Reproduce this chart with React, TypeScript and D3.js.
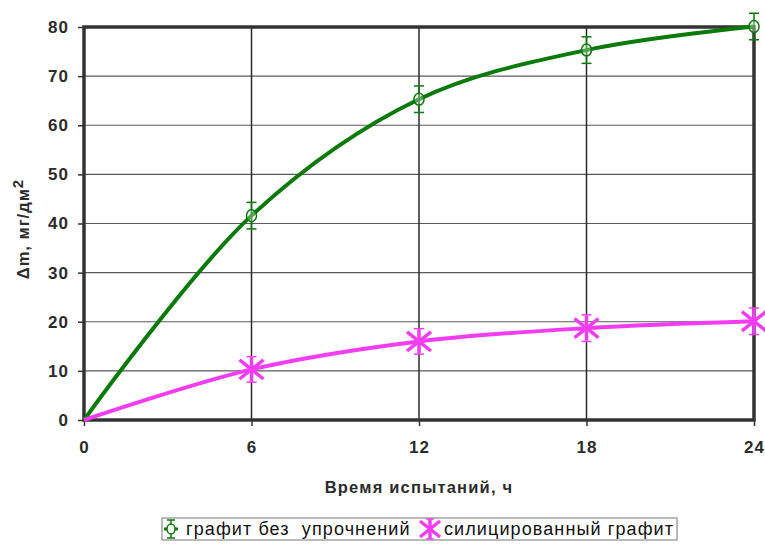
import { useEffect, useRef } from 'react'
import * as d3 from 'd3'

const HOURS = [0, 6, 12, 18, 24]
const PLAIN = [0, 41.6, 65.3, 75.3, 80.1]
const PLAIN_ERR = [0, 2.7, 2.7, 2.7, 2.7]
const SILICIDED = [0, 10.3, 16.0, 18.7, 20.1]
const SILICIDED_ERR = [0, 2.6, 2.6, 2.7, 2.7]
const Y_TICKS = [0, 10, 20, 30, 40, 50, 60, 70, 80]
const X_TICKS = [0, 6, 12, 18, 24]
const SERIES_NAMES = ['графит без  упрочнений', 'силицированный графит']

const W = 765
const H = 550
const MARGIN = { top: 27, right: 10, bottom: 130, left: 84 }
const GREEN = '#0a7a0a'
const PINK = '#f23cf2'
const FONT = '"Liberation Sans", Arial, sans-serif'

type Pt = { t: number; v: number; e: number }

export default function App() {
  const svgRef = useRef<SVGSVGElement>(null)

  useEffect(() => {
    const svg = d3.select(svgRef.current)
    svg.selectAll('*').remove()

    const innerW = W - MARGIN.left - MARGIN.right
    const innerH = H - MARGIN.top - MARGIN.bottom
    const x = d3.scaleLinear([0, 24], [0, innerW - 1])
    const y = d3.scaleLinear([0, 80], [innerH, 0])

    const g = svg.append('g').attr('transform', `translate(${MARGIN.left},${MARGIN.top})`)

    // ── Grid ──
    g.append('g')
      .selectAll('line')
      .data(Y_TICKS.slice(1, -1))
      .join('line')
      .attr('x1', 0).attr('x2', x(24))
      .attr('y1', d => y(d)).attr('y2', d => y(d))
      .attr('stroke', '#5a5a5a').attr('stroke-width', 1.2)

    g.append('g')
      .selectAll('line')
      .data(X_TICKS.slice(1, -1))
      .join('line')
      .attr('x1', d => x(d)).attr('x2', d => x(d))
      .attr('y1', 0).attr('y2', innerH)
      .attr('stroke', '#2a2a2a').attr('stroke-width', 1.5)

    // ── Axes (ticks + labels) ──
    g.append('g')
      .call(d3.axisLeft(y).tickValues(Y_TICKS).tickSize(6).tickPadding(9))
      .call(ag => ag.select('.domain').remove())
      .call(ag => ag.selectAll('.tick line').attr('stroke', '#333').attr('stroke-width', 1.5))
      .call(ag => ag.selectAll('text')
        .attr('fill', '#2b2b2b').attr('font-size', 17).attr('font-weight', 'bold')
        .attr('font-family', FONT).attr('letter-spacing', 1))

    g.append('g')
      .attr('transform', `translate(0,${innerH})`)
      .call(d3.axisBottom(x).tickValues(X_TICKS).tickSize(6).tickPadding(15))
      .call(ag => ag.select('.domain').remove())
      .call(ag => ag.selectAll('.tick line').attr('stroke', '#333').attr('stroke-width', 1.5))
      .call(ag => ag.selectAll('text')
        .attr('fill', '#2b2b2b').attr('font-size', 17).attr('font-weight', 'bold')
        .attr('font-family', FONT).attr('letter-spacing', 1))

    // ── Frame ──
    g.append('rect')
      .attr('x', 0).attr('y', 0)
      .attr('width', x(24)).attr('height', innerH)
      .attr('fill', 'none').attr('stroke', '#333').attr('stroke-width', 3.5)

    // ── Axis titles ──
    g.append('text')
      .attr('x', x(12)).attr('y', innerH + 73)
      .attr('text-anchor', 'middle').attr('font-size', 16.5).attr('font-weight', 'bold')
      .attr('fill', '#2b2b2b').attr('font-family', FONT).attr('letter-spacing', 1.2)
      .text('Время испытаний, ч')

    const yt = svg.append('text')
      .attr('transform', `translate(29,229) rotate(-90)`)
      .attr('text-anchor', 'middle').attr('font-size', 16.5).attr('font-weight', 'bold')
      .attr('fill', '#2b2b2b').attr('font-family', FONT).attr('letter-spacing', 1)
    yt.append('tspan').text('Δm, мг/дм')
    yt.append('tspan').attr('dy', -6).attr('font-size', 15).text('2')

    // ── Series ──
    const plain: Pt[] = HOURS.map((t, i) => ({ t, v: PLAIN[i], e: PLAIN_ERR[i] }))
    const sil: Pt[] = HOURS.map((t, i) => ({ t, v: SILICIDED[i], e: SILICIDED_ERR[i] }))

    const line = d3.line<Pt>()
      .x(d => x(d.t)).y(d => y(d.v))
      .curve(d3.curveCatmullRom.alpha(0.5))

    g.append('path').attr('d', line(plain) ?? '')
      .attr('fill', 'none').attr('stroke', GREEN).attr('stroke-width', 4)
    g.append('path').attr('d', line(sil) ?? '')
      .attr('fill', 'none').attr('stroke', PINK).attr('stroke-width', 4)

    const errBars = (data: Pt[], color: string, width: number) => {
      data.filter(d => d.e > 0).forEach(d => {
        const cx = x(d.t)
        const eg = g.append('g').attr('stroke', color).attr('stroke-width', width)
        eg.append('line').attr('x1', cx).attr('x2', cx).attr('y1', y(d.v + d.e)).attr('y2', y(d.v - d.e))
        eg.append('line').attr('x1', cx - 5).attr('x2', cx + 5).attr('y1', y(d.v + d.e)).attr('y2', y(d.v + d.e))
        eg.append('line').attr('x1', cx - 5).attr('x2', cx + 5).attr('y1', y(d.v - d.e)).attr('y2', y(d.v - d.e))
      })
    }
    errBars(plain, GREEN, 1.5)
    errBars(sil, PINK, 1.5)

    // circles
    plain.filter(d => d.t > 0).forEach(d => {
      g.append('ellipse')
        .attr('cx', x(d.t)).attr('cy', y(d.v)).attr('rx', 5).attr('ry', 6)
        .attr('fill', 'white').attr('fill-opacity', 0.3)
        .attr('stroke', GREEN).attr('stroke-width', 1.5)
    })

    // asterisks
    const star = (sel: d3.Selection<SVGGElement, unknown, null, undefined>, cx: number, cy: number, r: number, sw: number) => {
      const sg = sel.append('g').attr('stroke', PINK).attr('stroke-width', sw).attr('stroke-linecap', 'butt')
      sg.append('line').attr('x1', cx - r).attr('x2', cx + r).attr('y1', cy - r * 0.8).attr('y2', cy + r * 0.8)
      sg.append('line').attr('x1', cx - r).attr('x2', cx + r).attr('y1', cy + r * 0.8).attr('y2', cy - r * 0.8)
      sg.append('line').attr('x1', cx).attr('x2', cx).attr('y1', cy - r).attr('y2', cy + r)
    }
    sil.filter(d => d.t > 0).forEach(d => star(g, x(d.t), y(d.v), 12, 3.5))

    // ── Legend ──
    const lg = svg.append('g')
    lg.append('rect')
      .attr('x', 162).attr('y', 518).attr('width', 515).attr('height', 22)
      .attr('fill', 'white').attr('stroke', '#777').attr('stroke-width', 1)

    const legY = 529
    const gm = lg.append('g').attr('stroke', GREEN).attr('stroke-width', 1.5)
    gm.append('line').attr('x1', 171).attr('x2', 171).attr('y1', legY - 9).attr('y2', legY + 9)
    gm.append('line').attr('x1', 167).attr('x2', 175).attr('y1', legY - 9).attr('y2', legY - 9)
    gm.append('line').attr('x1', 167).attr('x2', 175).attr('y1', legY + 9).attr('y2', legY + 9)
    gm.append('line').attr('x1', 164).attr('x2', 178).attr('y1', legY).attr('y2', legY).attr('stroke-width', 3)
    gm.append('ellipse').attr('cx', 171).attr('cy', legY).attr('rx', 4).attr('ry', 5).attr('fill', 'white')

    lg.append('text')
      .attr('x', 186).attr('y', legY + 6)
      .attr('font-size', 18).attr('font-family', FONT).attr('fill', '#111')
      .attr('letter-spacing', 1.1)
      .style('white-space', 'pre')
      .text(SERIES_NAMES[0])

    const pm = lg.append('g').attr('stroke', PINK).attr('stroke-width', 1.5)
    pm.append('line').attr('x1', 430).attr('x2', 430).attr('y1', legY - 10).attr('y2', legY + 10)
    pm.append('line').attr('x1', 426).attr('x2', 434).attr('y1', legY - 10).attr('y2', legY - 10)
    pm.append('line').attr('x1', 426).attr('x2', 434).attr('y1', legY + 10).attr('y2', legY + 10)
    star(lg, 430, legY, 10, 3.5)

    lg.append('text')
      .attr('x', 444).attr('y', legY + 6)
      .attr('font-size', 18).attr('font-family', FONT).attr('fill', '#111')
      .attr('letter-spacing', 1.1)
      .text(SERIES_NAMES[1])
  }, [])

  return (
    <svg
      ref={svgRef}
      width={W}
      height={H}
      style={{ position: 'absolute', left: 0, top: 0, background: 'white' }}
    />
  )
}
